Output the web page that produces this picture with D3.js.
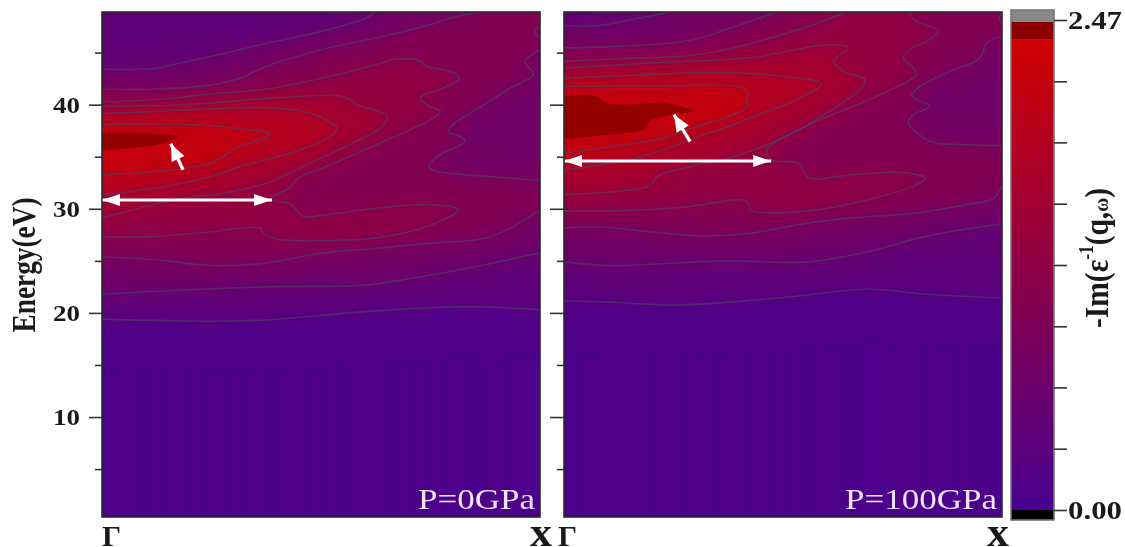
<!DOCTYPE html>
<html>
<head>
<meta charset="utf-8">
<script src="https://cdnjs.cloudflare.com/ajax/libs/d3/7.8.5/d3.min.js"></script>
<style>
html,body{margin:0;padding:0;background:#fff;}
svg{display:block;filter:blur(0.5px);}
text{font-family:"Liberation Serif",serif;}
</style>
</head>
<body>
<svg id="chart" width="1125" height="547"></svg>
<script>
// ---------- axis values ----------
const energyDomain = [0.4, 48.9];
const qDomain = [0, 100];               // % of the path from Gamma to X
const energyMajor = [10, 20, 30, 40];
const energyMinor = [5, 15, 25, 35, 45];
const colorDomain = [0, 2.37];
const barLabels = [0, 2.47];
const barTicks = [0, 0.309, 0.618, 0.926, 1.235, 1.544, 1.853, 2.161, 2.47];
const levelValues = [0.26, 0.56, 0.86, 1.16, 1.46, 1.76, 2.06, 2.37];

// ---------- P = 0 GPa: iso-lines as [q, energy] ----------
const p0L1 = [[0,19.4],[25,19.2],[36.6,19.3],[59.5,20.1],[82.4,20.6],[100,20.3]];
const p0L2bot = [[0,21.8],[36.6,22.5],[59.5,22.65],[71,23.35],[82.4,24.2],[100,25.75]];
const p0L2top = [[0,43.4],[12.5,43.5],[16.3,43.85],[25,44.65],[37.6,45.9],[50.2,47.05],[60.4,48.35],[62.3,48.9]];
const p0L3bot = [[0,25.4],[12.5,25.1],[25,24.55],[37.6,24.8],[50.2,25.75],[62.6,26.2],[75.1,26.7],[87.7,27.2],[93.9,28.3],[100,29.9]];
const p0L3right = [[100,32.7],[88.6,33.1],[81,33.35],[75.6,33.7],[74.7,34.2],[77.2,35.2],[82.9,36.5],[81.7,36.95],[79,37.4],[80.2,38.1],[87.8,40.15],[93.2,41.6],[98.5,42.9],[96.6,44.15],[100,45.3]];
const p0L3top = [[0,41.5],[12.5,41.5],[25,41.9],[31.5,42.55],[37.6,43.7],[50.2,45.3],[62.6,46.4],[75.1,47.7],[81,48.5],[86.3,48.9]];
const p0L3hook = [[100,47.6],[98.9,47.05],[100,46.4]];
const p0L4 = [[0,40.3],[12.5,40.5],[25,41.05],[37.6,41.5],[50.2,42.55],[62.6,43.85],[66.1,44.3],[69.6,44.4],[72.2,44.25],[74.1,43.7],[77.9,43.35],[81,42.9],[81.4,42.4],[77.9,41.6],[72.6,40.65],[74.1,40],[77.2,39.35],[76.4,38.9],[62.6,36.15],[50.2,33.9],[46,33.25],[44.4,32.8],[42.9,32],[39.1,31.2],[38.7,30.85],[42.9,30.5],[44.4,29.9],[46,29.25],[50.5,29.4],[62.6,30.05],[75.1,30.4],[81.4,29.9],[75.1,28.45],[62.6,27.2],[50.2,26.95],[39.9,27.1],[36.8,27.65],[36.1,28.15],[25,27.8],[12.5,27.35],[0,27.3]];
const p0L5 = [[0,39.85],[12.5,39.9],[25,40.15],[37.6,40.6],[54.3,40.85],[56.6,40.5],[58.9,39.85],[62.7,39.45],[65.2,38.8],[63.5,37.75],[58.1,36.5],[50.2,34.9],[42.9,33.45],[37.6,32.45],[27.7,31.5],[20.1,31.1],[12.5,30.5],[4.9,29.65],[0,29.1]];
const p0L6 = [[0,39.15],[12.5,39.35],[25,39.6],[37.6,39.7],[46,39.35],[50.5,38.7],[53.6,37.75],[52.1,36.95],[47.5,36],[42.9,35.3],[31.5,34.05],[25,33.1],[12.5,32],[0,31.35]];
const p0L7 = [[0,38.1],[12.5,38.15],[25,38],[33,37.6],[38.4,37.2],[36.1,36.65],[30.7,35.85],[27.7,35.05],[25,34.4],[12.5,33.6],[0,33.25]];
const p0L8 = [[0,37.3],[6.4,37.3],[12.5,37.2],[17.4,36.9],[12.5,36.15],[6.4,35.85],[0,35.6]];

// ---------- P = 100 GPa ----------
const p1L1 = [[0,21.15],[10,21.05],[25.5,20.75],[52,21.55],[69.6,22.3],[82.6,21.8],[100,21.45]];
const p1L2bot = [[0,24.9],[10.3,24.55],[36.9,25],[55.9,24.9],[69.6,25.9],[82.6,27.35],[100,28.55]];
const p1L2top = [[0,47.6],[6.7,47.55],[15.8,48.2],[24.2,48.9]];
const p1L3bot = [[0,28.15],[8.2,28.25],[19.6,27.8],[31,27.4],[42.5,27.65],[54.6,28.55],[65.3,29.1],[80.5,29.6],[91.9,30.4],[98,31],[100,32.3]];
const p1L3right = [[100,36.1],[92,36.15],[84.3,36.4],[80.5,37.3],[78.6,38.25],[79.4,38.9],[83.6,39.9],[80.5,40.5],[79.4,40.95],[81.3,41.75],[88.1,43.2],[95,44.5],[96.5,45.95],[100,46.55]];
const p1L3top = [[0,45.45],[12,45.6],[25,45.95],[31,46.4],[39.4,47.55],[48.6,48.9]];
const p1L3hook = [[100,48.7],[99.2,48.3],[100,47.8]];
const p1L4a = [[0,44.15],[12,44.4],[27.2,44.65],[37.1,45.3],[50,46.75],[57.7,47.8],[64.5,48.9]];
const p1L4b = [[78.6,48.9],[80.5,48],[85.5,47.05],[82.8,46.1],[79,45.3],[77.5,44.5],[79.8,43.5],[80.5,42.9],[72.9,41.1],[57.7,38.4],[48.6,36.5],[46.3,35.65],[47.4,34.7],[53.5,34.4],[54.6,33.75],[55.8,32.95],[65.3,33.25],[76.7,33.5],[82.4,32.95],[80.5,32.3],[69.1,30.85],[57.7,29.9],[45.5,29.65],[42.5,29.9],[41.7,30.75],[27.2,30.15],[12,29.8],[0,29.8]];
const p1L5 = [[0,43.5],[19.6,44],[42.5,44.5],[60,45.75],[64.9,45.5],[61.5,44.15],[63.8,43.2],[68.7,42.4],[68,41.6],[58.8,38.9],[53.1,37.45],[45.5,36],[36.4,34.7],[28.8,34.05],[21.2,33.1],[20,32.3],[15.1,31.8],[0,31.35]];
const p1L6 = [[0,42.55],[19.6,42.9],[34.9,43.1],[50.1,42.7],[58.8,42],[53.1,40.5],[45.5,39.2],[36.4,37.75],[28.8,36.65],[22.7,35.65],[15.1,34.7],[0,33.75]];
const p1L7 = [[0,41.75],[22.7,41.8],[40.1,41.7],[42,41.1],[41.6,40.15],[42,39.85],[37.9,38.9],[30.3,37.9],[22.7,36.8],[11.3,36],[0,35.35]];
const p1L8 = [[0,40.8],[7.4,40.8],[9.7,40.15],[15,40],[22.6,40.15],[29.5,39.4],[24.9,39.05],[19.6,38.4],[18.4,37.65],[15,37.3],[7.4,37],[0,36.7]];

// ---------- annotations: [q, energy] ----------
const p0Span = [[0,30.85],[38.8,30.85]];
const p0Peak = [[18.5,33.75],[15.7,36.25]];
const p1Span = [[0,34.6],[47.3,34.6]];
const p1Peak = [[28.8,36.45],[25.1,39.05]];

const [eLo, eHi] = energyDomain;
const panels = [
  { range:[102,540], label:"P=0GPa", labelX:[418,535], span:p0Span, peak:p0Peak, showLabels:true, tickOuter:13,
    dark:p0L8,
    strokes:[p0L1,p0L2bot,p0L2top,p0L3bot,p0L3right,p0L3top,p0L3hook,p0L4,p0L5,p0L6,p0L7],
    regions:[
      [...p0L1,[100,eHi],[0,eHi]],
      [...p0L2bot,[100,eHi],...p0L2top.slice().reverse()],
      [...p0L3bot,...p0L3right,[100,eHi],...p0L3top.slice().reverse()],
      p0L4,p0L5,p0L6,p0L7
    ], x:{text:"x",at:[530,552]}, g:{at:102} },
  { range:[564,1002], label:"P=100GPa", labelX:[845,997], span:p1Span, peak:p1Peak, showLabels:false, tickOuter:14,
    dark:p1L8,
    strokes:[p1L1,p1L2bot,p1L2top,p1L3bot,p1L3right,p1L3top,p1L3hook,p1L4a,p1L4b,p1L5,p1L6,p1L7],
    regions:[
      [...p1L1,[100,eHi],[0,eHi]],
      [...p1L2bot,[100,eHi],...p1L2top.slice().reverse()],
      [...p1L3bot,...p1L3right,[100,eHi],...p1L3top.slice().reverse()],
      [...p1L4a,...p1L4b],p1L5,p1L6,p1L7
    ], x:{text:"x",at:[987,1009]}, g:{at:558} }
];

const svg = d3.select("#chart");
const defs = svg.append("defs");
const y = d3.scaleLinear().domain(energyDomain).range([517,12]);
const color = d3.scaleLinear().domain(colorDomain).range(["rgb(72,0,144)","rgb(208,0,0)"]).clamp(true);
const bold = 'bold';

panels.forEach((p,pi)=>{
  const x = d3.scaleLinear().domain(qDomain).range(p.range);
  const clipId = "clip"+pi;
  defs.append("clipPath").attr("id",clipId).append("rect")
    .attr("x",p.range[0]).attr("y",12).attr("width",p.range[1]-p.range[0]).attr("height",505);
  const g = svg.append("g");
  const plot = g.append("g").attr("clip-path",`url(#${clipId})`);

  // field on a grid: how many iso-levels enclose each cell, softened at two widths
  const W = 219, H = 253;
  const gx = d3.scaleLinear().domain([0,W]).range(qDomain);
  const gy = d3.scaleLinear().domain([0,H]).range([eHi,eLo]);
  const counts = new Float64Array(W*H);
  for (let j=0;j<H;j++) for (let i=0;i<W;i++){
    const pt=[gx(i+.5),gy(j+.5)];
    let c=0;
    p.regions.forEach(r=>{ if(d3.polygonContains(r,pt)) c++; });
    counts[j*W+i]=c;
  }
  const fine = Float64Array.from(counts), wide = Float64Array.from(counts);
  d3.blur2({data:fine,width:W,height:H},3);
  d3.blur2({data:wide,width:W,height:H},8);
  const field = Array.from(fine,(c,k)=>levelValues[0]+((c+wide[k])/2-0.5)*(levelValues[1]-levelValues[0]));
  const thresholds = d3.range(0.05,2.4,0.02);
  const path = d3.geoPath(d3.geoTransform({point(a,b){this.stream.point(x(gx(a)),y(gy(b)));}}));
  plot.append("rect").attr("x",p.range[0]).attr("y",12).attr("width",p.range[1]-p.range[0]).attr("height",505)
    .attr("fill",color(d3.min(field)));
  plot.selectAll("path.band").data(d3.contours().size([W,H]).thresholds(thresholds)(field)).join("path")
    .attr("class","band").attr("d",path).attr("fill",d=>color(d.value));

  // dark peak region
  const line = d3.line().x(d=>x(d[0])).y(d=>y(d[1])).curve(d3.curveCatmullRom.alpha(0.5));
  plot.append("path").attr("d",line(p.dark)).attr("fill","#930000");
  // iso-lines
  plot.selectAll("path.iso").data(p.strokes).join("path").attr("class","iso")
    .attr("d",line).attr("fill","none").attr("stroke","#4d4466").attr("stroke-opacity",0.6).attr("stroke-width",1.6);

  // arrows
  const pxy = d=>[x(d[0]),y(d[1])];
  const head=(tip,from,len,hw)=>{
    const [tx,ty]=pxy(tip),[fx,fy]=pxy(from);
    const L=Math.hypot(tx-fx,ty-fy),ux=(tx-fx)/L,uy=(ty-fy)/L;
    const bx=tx-ux*len,by=ty-uy*len;
    return `M${tx},${ty}L${bx-uy*hw},${by+ux*hw}L${bx+uy*hw},${by-ux*hw}Z`;
  };
  const ann = g.append("g");
  const straight = d3.line().x(d=>x(d[0])).y(d=>y(d[1]));
  ann.append("path").attr("d",straight(p.span)).attr("stroke","#fff").attr("stroke-width",3).attr("fill","none");
  ann.append("path").attr("d",head(p.span[0],p.span[1],18,6)).attr("fill","#fff");
  ann.append("path").attr("d",head(p.span[1],p.span[0],18,6)).attr("fill","#fff");
  ann.append("path").attr("d",straight(p.peak)).attr("stroke","#fff").attr("stroke-width",3.2).attr("fill","none");
  ann.append("path").attr("d",head(p.peak[1],p.peak[0],17,7)).attr("fill","#fff");

  // frame and axes
  g.append("rect").attr("x",p.range[0]).attr("y",12).attr("width",p.range[1]-p.range[0]).attr("height",505)
    .attr("fill","none").attr("stroke","#2a2a2a").attr("stroke-width",1.6);
  const major = g.append("g").attr("transform",`translate(${p.range[0]},0)`)
    .call(d3.axisLeft(y).tickValues(energyMajor).tickSize(p.tickOuter).tickPadding(9)
      .tickFormat(p.showLabels?d3.format("d"):()=>""));
  major.select(".domain").remove();
  major.selectAll("line").attr("stroke","#333").attr("stroke-width",1.6);
  major.selectAll("text").attr("fill","#1a1a1a").attr("font-size",23).attr("font-weight",bold)
    .attr("font-family","Liberation Serif").attr("textLength",p.showLabels?27:null).attr("lengthAdjust","spacingAndGlyphs");
  const minor = g.append("g").attr("transform",`translate(${p.range[0]},0)`)
    .call(d3.axisLeft(y).tickValues(energyMinor).tickSize(7).tickFormat(()=>""));
  minor.select(".domain").remove();
  minor.selectAll("line").attr("stroke","#333").attr("stroke-width",1.6);

  // labels
  g.append("text").attr("x",p.labelX[0]).attr("y",509).attr("fill","#ece4f4").attr("font-size",30)
    .attr("textLength",p.labelX[1]-p.labelX[0]).attr("lengthAdjust","spacingAndGlyphs").text(p.label);
  g.append("text").attr("x",p.g.at).attr("y",546).attr("fill","#1a1a1a").attr("font-size",30).attr("font-weight",bold).text("Γ");
  g.append("text").attr("x",p.x.at[0]).attr("y",546).attr("fill","#1a1a1a").attr("font-size",40).attr("font-weight",bold)
    .attr("textLength",p.x.at[1]-p.x.at[0]).attr("lengthAdjust","spacingAndGlyphs").text(p.x.text);
});

// y title
svg.append("text").attr("transform","translate(35,265) rotate(-90)").attr("text-anchor","middle")
  .attr("font-size",33).attr("font-weight",bold).attr("fill","#1a1a1a")
  .attr("textLength",135).attr("lengthAdjust","spacingAndGlyphs").text("Energy(eV)");

// colour bar
const yBar = d3.scaleLinear().domain([0,2.47]).range([510,20]);
const grad = defs.append("linearGradient").attr("id","barGrad").attr("x1",0).attr("x2",0).attr("y1",1).attr("y2",0);
colorDomain.forEach((v,i)=>grad.append("stop").attr("offset",i).attr("stop-color",color(v)));
const bar = svg.append("g");
const barX = 1011, barW = 43;
bar.append("rect").attr("x",barX).attr("width",barW).attr("y",yBar(colorDomain[1])).attr("height",yBar(0)-yBar(colorDomain[1])).attr("fill","url(#barGrad)");
bar.append("rect").attr("x",barX).attr("width",barW).attr("y",22).attr("height",yBar(colorDomain[1])-22).attr("fill","#8b0000");
bar.append("rect").attr("x",barX).attr("width",barW).attr("y",10).attr("height",12).attr("fill","#888");
bar.append("rect").attr("x",barX).attr("width",barW).attr("y",yBar(0)).attr("height",520-yBar(0)).attr("fill","#000");
bar.append("rect").attr("x",barX).attr("width",barW).attr("y",10).attr("height",510)
  .attr("fill","none").attr("stroke","#777").attr("stroke-width",1.6);
const barAxis = bar.append("g").attr("transform",`translate(${barX+barW},0)`)
  .call(d3.axisRight(yBar).tickValues(barTicks).tickSize(13).tickPadding(1)
    .tickFormat(d=>barLabels.includes(d)?d3.format(".2f")(d):""));
barAxis.select(".domain").remove();
barAxis.selectAll("line").attr("stroke","#333").attr("stroke-width",1.6);
barAxis.selectAll("text").attr("fill","#1a1a1a").attr("font-size",25).attr("font-weight",bold)
  .attr("font-family","Liberation Serif").attr("textLength",d=>barLabels.includes(d)?54:null).attr("lengthAdjust","spacingAndGlyphs");

// colour bar title
const t = svg.append("text").attr("text-anchor","middle")
  .attr("font-size",34).attr("font-weight",bold).attr("fill","#1a1a1a");
t.append("tspan").text("-Im(ε");
t.append("tspan").attr("font-size",20).attr("dy",-15).text("-1");
t.append("tspan").attr("dy",15).text("(q,");
t.append("tspan").attr("font-size",22).text("ω");
t.append("tspan").text(")");
const fit = 140 / t.node().getComputedTextLength();
t.attr("transform",`translate(1108,258) rotate(-90) scale(${fit},1)`);
</script>
</body>
</html>
